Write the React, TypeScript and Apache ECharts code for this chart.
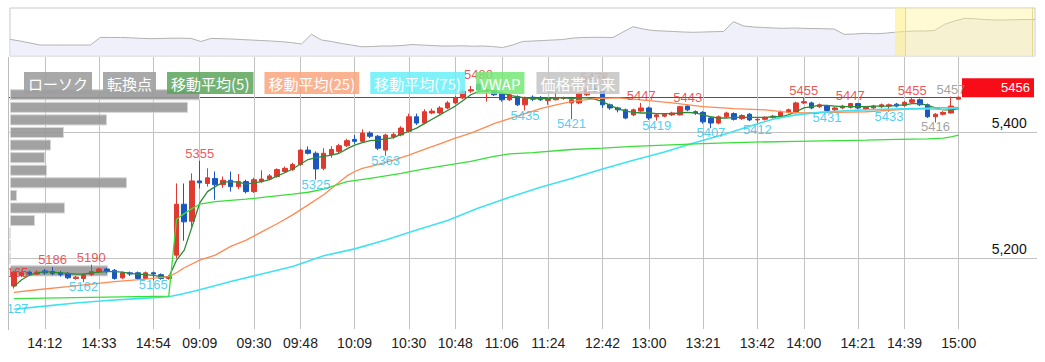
import React, { useEffect, useRef } from "react";
import * as echarts from "echarts";

// ---------- data ----------
const sessions = [
  { day: 0, start: "14:00", end: "15:00" },
  { day: 1, start: "09:00", end: "11:30" },
  { day: 1, start: "12:30", end: "15:00" },
];
const STEP_MIN = 3;
const prevDayTicks = ["14:12", "14:33", "14:54"];
const todayTicks = ["09:09", "09:30", "09:48", "10:09", "10:30", "10:48", "11:06", "11:24", "12:42", "13:00", "13:21", "13:42", "14:00", "14:21", "14:39", "15:00"];
const yTickValues = [5200, 5400];

// [open, close, low, high]
const candles = [
  [5156, 5178, 5152, 5180], [5173, 5177, 5170, 5180], [5178, 5175, 5172, 5180], [5175, 5178, 5173, 5181],
  [5180, 5177, 5174, 5183], [5179, 5176, 5173, 5186], [5177, 5174, 5171, 5180], [5176, 5169, 5167, 5178],
  [5168, 5170, 5166, 5172], [5168, 5174, 5162, 5176], [5174, 5179, 5172, 5190], [5179, 5183, 5177, 5185],
  [5183, 5180, 5176, 5185], [5181, 5168, 5166, 5183], [5169, 5177, 5167, 5179], [5177, 5175, 5172, 5179],
  [5177, 5168, 5166, 5179], [5168, 5177, 5167, 5179], [5177, 5175, 5165, 5179], [5174, 5168, 5166, 5176],
  [5168, 5171, 5166, 5173],
  [5205, 5286, 5200, 5319], [5286, 5258, 5228, 5319], [5259, 5323, 5250, 5335], [5323, 5320, 5311, 5355],
  [5319, 5328, 5314, 5343], [5327, 5317, 5293, 5338], [5317, 5324, 5312, 5330], [5324, 5314, 5306, 5338],
  [5314, 5322, 5310, 5334], [5322, 5306, 5303, 5325], [5306, 5325, 5304, 5328], [5322, 5326, 5320, 5340],
  [5326, 5331, 5324, 5334], [5330, 5341, 5328, 5343], [5338, 5343, 5336, 5346], [5341, 5349, 5339, 5352],
  [5349, 5372, 5347, 5374], [5372, 5367, 5365, 5378], [5367, 5342, 5325, 5370], [5343, 5367, 5340, 5375],
  [5365, 5373, 5360, 5378], [5370, 5379, 5366, 5382], [5379, 5387, 5377, 5390], [5389, 5386, 5382, 5396],
  [5386, 5399, 5384, 5405], [5399, 5394, 5391, 5402], [5394, 5375, 5372, 5396], [5372, 5396, 5363, 5398],
  [5393, 5397, 5390, 5400], [5396, 5407, 5394, 5410], [5402, 5425, 5400, 5430], [5425, 5415, 5412, 5430],
  [5415, 5433, 5413, 5437], [5431, 5434, 5429, 5438], [5431, 5439, 5429, 5442], [5439, 5447, 5437, 5450],
  [5447, 5455, 5445, 5458], [5455, 5465, 5453, 5468], [5466, 5468, 5463, 5474], [5476, 5468, 5466, 5480],
  [5466, 5468, 5449, 5470], [5467, 5460, 5458, 5469], [5462, 5452, 5449, 5464], [5452, 5460, 5450, 5462],
  [5457, 5444, 5442, 5459], [5444, 5455, 5435, 5457], [5456, 5453, 5450, 5459], [5455, 5452, 5450, 5458],
  [5451, 5454, 5444, 5456], [5452, 5455, 5451, 5466], [5454, 5455, 5452, 5457],
  [5447, 5452, 5421, 5454], [5447, 5462, 5445, 5464], [5460, 5468, 5458, 5470], [5470, 5466, 5464, 5476],
  [5466, 5444, 5439, 5468], [5444, 5439, 5436, 5446], [5439, 5436, 5432, 5441], [5436, 5423, 5421, 5438],
  [5428, 5436, 5426, 5438], [5434, 5439, 5432, 5447], [5439, 5423, 5420, 5441], [5425, 5428, 5419, 5430],
  [5426, 5429, 5424, 5431], [5428, 5431, 5426, 5433], [5428, 5441, 5427, 5442], [5442, 5436, 5434, 5443],
  [5433, 5431, 5428, 5435], [5432, 5417, 5414, 5434], [5423, 5415, 5407, 5425], [5415, 5425, 5413, 5427],
  [5425, 5431, 5423, 5433], [5430, 5421, 5419, 5432], [5422, 5427, 5420, 5429], [5429, 5420, 5418, 5431],
  [5420, 5421, 5412, 5423], [5421, 5424, 5419, 5426], [5424, 5426, 5422, 5428], [5426, 5433, 5424, 5435],
  [5432, 5436, 5430, 5438], [5432, 5447, 5430, 5449], [5447, 5449, 5445, 5455], [5447, 5439, 5437, 5449],
  [5441, 5444, 5439, 5446], [5442, 5435, 5431, 5444], [5436, 5439, 5434, 5441], [5439, 5442, 5437, 5444],
  [5440, 5446, 5438, 5447], [5446, 5439, 5437, 5447], [5437, 5440, 5435, 5442], [5439, 5442, 5437, 5444],
  [5441, 5444, 5439, 5446], [5442, 5444, 5433, 5446], [5445, 5442, 5440, 5447], [5443, 5448, 5441, 5450],
  [5448, 5452, 5446, 5455], [5452, 5444, 5442, 5454], [5444, 5425, 5423, 5446], [5425, 5429, 5416, 5431],
  [5429, 5432, 5427, 5434], [5431, 5442, 5430, 5457], [5453, 5456, 5453, 5457],
];

const ma5 = [
  5155, 5166, 5173, 5177, 5179, 5178, 5177, 5176, 5175, 5175, 5177, 5178, 5179, 5179, 5178, 5176, 5175, 5174, 5173, 5171, 5170,
  5197, 5213, 5250, 5288, 5306, 5314, 5321, 5322, 5321, 5318, 5320, 5322, 5325, 5331, 5336, 5342, 5350, 5357, 5360, 5362,
  5364, 5367, 5374, 5380, 5384, 5387, 5388, 5390, 5392, 5397, 5402, 5407, 5414, 5421, 5428, 5435, 5442, 5451, 5460, 5465,
  5467, 5466, 5463, 5459, 5457, 5455, 5454, 5454, 5454, 5455, 5455, 5454, 5455, 5455, 5453, 5449, 5443, 5438, 5434, 5432,
  5431, 5431, 5430, 5430, 5430, 5431, 5432, 5431, 5428, 5425, 5423, 5423, 5424, 5424, 5424, 5424, 5424, 5425, 5425, 5428,
  5433, 5439, 5441, 5443, 5443, 5442, 5441, 5441, 5441, 5441, 5442, 5442, 5442, 5443, 5444, 5446, 5446, 5443, 5439, 5436,
  5436, 5438,
];
const ma25 = [
  [0, 5146], [3, 5150], [7, 5155], [10, 5159], [13, 5163], [17, 5167], [20, 5171], [21, 5177], [22, 5185], [24, 5197],
  [26, 5205], [28, 5219], [30, 5229], [32, 5242], [34, 5255], [36, 5269], [38, 5285], [40, 5301], [42, 5321], [43, 5331],
  [44, 5338], [45, 5343], [47, 5349], [49, 5356], [51, 5364], [53, 5373], [55, 5382], [57, 5391], [59, 5399], [61, 5409],
  [62, 5414], [64, 5422], [66, 5430], [68, 5438], [70, 5444], [72, 5449], [75, 5454], [78, 5455], [81, 5452], [85, 5447],
  [89, 5441], [93, 5438], [97, 5436], [100, 5432], [102, 5431], [106, 5432], [110, 5433], [114, 5436], [118, 5439], [122, 5440],
];
const ma75 = [
  [0, 5119], [4, 5124], [8, 5129], [12, 5133], [16, 5136], [20, 5139], [22, 5144], [24, 5150], [28, 5163], [32, 5175],
  [36, 5187], [40, 5204], [44, 5215], [48, 5229], [52, 5245], [56, 5260], [60, 5280], [64, 5297], [68, 5313], [72, 5327],
  [76, 5342], [80, 5356], [84, 5369], [88, 5384], [92, 5398], [95, 5410], [98, 5421], [101, 5428], [104, 5432], [108, 5435],
  [112, 5437], [116, 5438], [120, 5437], [122, 5439],
];
const vwap = [
  [0, 5136], [10, 5138], [20, 5140],
  [21, 5262], [22, 5271], [23, 5279], [24, 5286], [26, 5290], [30, 5294], [33, 5298], [36, 5302], [38, 5305], [40, 5310],
  [43, 5322], [46, 5327], [50, 5335], [53, 5342], [56, 5348], [59, 5354], [62, 5362], [64, 5366], [67, 5368], [72, 5373],
  [76, 5375], [80, 5378], [84, 5380], [88, 5382], [93, 5384], [101, 5386], [110, 5388], [114, 5389], [118, 5390],
  [120, 5391], [121, 5393], [122, 5396],
];

const pivotHighs = [[0, 5165], [5, 5186], [10, 5190], [24, 5355], [60, 5480], [75, 5476], [81, 5447], [87, 5443], [102, 5455], [108, 5447], [116, 5455]];
const pivotLows = [[0, 5127], [9, 5162], [18, 5165], [39, 5325], [48, 5363], [66, 5435], [72, 5421], [83, 5419], [90, 5407], [96, 5412], [105, 5431], [113, 5433]];
const pendingHighs = [[121, 5457]];
const pendingLows = [[119, 5416]];

const profileBins = [5180, 5200, 5220, 5240, 5260, 5280, 5300, 5320, 5340, 5360, 5380, 5400, 5420, 5440, 5460];
const profileVolume = [98, 0, 0, 0, 25, 55, 7, 117, 37, 35, 41, 54, 97, 178, 190];

const overviewValues = [
  4963, 4921, 4871, 4821, 4821, 4821, 4821, 4821, 4821, 5013, 5008, 5010, 5000, 4988, 4980, 4983, 4991, 4993, 4986, 4909,
  4986, 4980, 4971, 4958, 4946, 4933, 4921, 4904, 4884, 4846, 5088, 4946, 4909, 4859, 4821, 4779, 4784, 4797, 4797, 4809,
  4834, 4821, 4809, 4797, 4797, 4802, 4792, 4797, 4784, 4759, 4821, 4909, 4921, 4933, 4946, 4958, 4996, 5008, 5013, 5013,
  5008, 5145, 5277, 5220, 5182, 5170, 5158, 5145, 5138, 5145, 5153, 5158, 5402, 5295, 5270, 5257, 5245, 5237, 5245, 5237,
  5232, 5227, 5220, 5088, 5095, 5113, 5103, 5113, 5138, 5158, 5170, 5170, 5182, 5337, 5419, 5486, 5476, 5456, 5444, 5444,
  5451, 5456, 5456,
];

const legendItems = [
  { name: "ローソク", bg: "rgba(158,158,158,0.9)" },
  { name: "転換点", bg: "rgba(160,160,160,0.9)" },
  { name: "移動平均(5)", bg: "rgba(92,164,92,0.85)" },
  { name: "移動平均(25)", bg: "rgba(250,165,125,0.85)" },
  { name: "移動平均(75)", bg: "rgba(105,238,248,0.85)" },
  { name: "VWAP", bg: "rgba(118,232,118,0.85)" },
  { name: "価格帯出来", bg: "rgba(196,196,196,0.85)" },
];

// ---------- layout constants ----------
const OX = 8;
const px = (pageX: number) => pageX - OX;
const Y_MIN = 5094;
const Y_MAX = 5520;
const MAIN_TOP = 57;
const MAIN_H = 268;
const yPix = (p: number) => MAIN_TOP + ((Y_MAX - p) / (Y_MAX - Y_MIN)) * MAIN_H;

const FONT = "'Liberation Sans', Arial, Helvetica, sans-serif";
const JP = "'Noto Sans CJK JP', 'Liberation Sans', sans-serif";
const GRID_C = "#c2c2c2";
const UP = "#e0392f";
const DOWN = "#1a58c0";
const RED_T = "#ec2a2a";
const CYAN_T = "#22c4ef";
const GRAY_T = "#8a8a8a";

function buildCategories() {
  const cats: { day: number; time: string }[] = [];
  const toMin = (s: string) => {
    const [h, m] = s.split(":").map(Number);
    return h * 60 + m;
  };
  for (const s of sessions) {
    for (let t = toMin(s.start); t <= toMin(s.end); t += STEP_MIN) {
      const hh = String(Math.floor(t / 60)).padStart(2, "0");
      const mm = String(t % 60).padStart(2, "0");
      cats.push({ day: s.day, time: `${hh}:${mm}` });
    }
  }
  return cats;
}

export default function App() {
  const ref = useRef<HTMLDivElement>(null);

  useEffect(() => {
    const el = ref.current;
    if (!el) return;
    const chart = echarts.init(el, null, { renderer: "svg" });

    const cats = buildCategories();
    const catKeys = cats.map((c) => `d${c.day} ${c.time}`);
    const tickSet = new Set<number>();
    cats.forEach((c, i) => {
      if ((c.day === 0 && prevDayTicks.includes(c.time)) || (c.day === 1 && todayTicks.includes(c.time))) tickSet.add(i);
    });
    const tickFn = (index: number) => tickSet.has(index);
    const lastClose = candles[candles.length - 1][1];

    const pivotData = [
      ...pivotHighs.map(([i, v]) => ({ value: [i, v], label: { position: "top", distance: 1, color: RED_T } })),
      ...pivotLows.map(([i, v]) => ({ value: [i, v], label: { position: "bottom", distance: 0, offset: [0, -2], color: CYAN_T } })),
      ...pendingHighs.map(([i, v]) => ({ value: [i, v], label: { position: "top", distance: 1, color: GRAY_T } })),
      ...pendingLows.map(([i, v]) => ({ value: [i, v], label: { position: "bottom", distance: 0, offset: [0, -2], color: GRAY_T } })),
    ];

    const option: any = {
      animation: false,
      textStyle: { fontFamily: FONT },
      legend: {
        left: px(13),
        top: 67,
        itemWidth: 0,
        itemHeight: 0,
        itemGap: 6,
        icon: "rect",
        selectedMode: false,
        z: 20,
        data: legendItems.map((it) => ({
          name: it.name,
          textStyle: {
            color: "#fff",
            backgroundColor: it.bg,
            padding: [3, 4, 2, 4],
            fontSize: 15,
            lineHeight: 17,
            fontFamily: JP,
          },
        })),
      },
      grid: [
        { left: px(10), right: 1045 - 1035, top: 8, height: 48, show: true, borderColor: "#c9c9c9", borderWidth: 1, backgroundColor: "#fff" },
        { left: px(13.87), right: 1045 - 958.7, top: MAIN_TOP, height: MAIN_H },
        { left: px(10), width: 300, top: yPix(5470), height: yPix(5170) - yPix(5470) },
        { left: 0, right: 1045 - 1037, top: MAIN_TOP, height: MAIN_H },
        { left: 0, right: 1045 - 960, top: MAIN_TOP, height: MAIN_H },
      ],
      xAxis: [
        { gridIndex: 0, type: "category", data: overviewValues.map((_, i) => String(i)), boundaryGap: false, show: false },
        {
          gridIndex: 1,
          type: "category",
          data: catKeys,
          boundaryGap: false,
          axisLine: { show: false },
          axisTick: { show: true, interval: tickFn, length: 4, lineStyle: { color: GRID_C } },
          axisLabel: {
            interval: tickFn,
            formatter: (k: string) => k.split(" ")[1],
            margin: 11,
            fontSize: 14,
            color: "#222",
            fontFamily: FONT,
          },
          splitLine: { show: true, interval: tickFn, lineStyle: { color: GRID_C, width: 1 } },
        },
        { gridIndex: 2, type: "value", min: 0, max: 300, show: false },
        { gridIndex: 3, type: "value", min: 0, max: 1, show: false },
        { gridIndex: 4, type: "value", min: 0, max: 1, show: false },
      ],
      yAxis: [
        { gridIndex: 0, type: "value", min: 4548, max: 5743, show: false },
        {
          gridIndex: 1,
          type: "value",
          min: Y_MIN,
          max: Y_MAX,
          position: "right",
          axisLine: { show: false },
          axisTick: { show: false, customValues: yTickValues },
          splitLine: { show: false },
          axisLabel: {
            customValues: yTickValues,
            formatter: (v: number) => v.toLocaleString("en-US"),
            margin: 68,
            align: "right",
            verticalAlign: "bottom",
            lineHeight: 18,
            fontSize: 14,
            color: "#111",
            fontFamily: FONT,
          },
        },
        { gridIndex: 2, type: "category", data: profileBins.map(String), show: false },
        {
          gridIndex: 3,
          type: "value",
          min: Y_MIN,
          max: Y_MAX,
          axisLine: { show: false },
          axisTick: { show: false, customValues: yTickValues },
          axisLabel: { show: false },
          splitLine: { show: true, lineStyle: { color: GRID_C, width: 1 } },
        },
        {
          gridIndex: 4,
          type: "value",
          min: Y_MIN,
          max: Y_MAX,
          position: "right",
          axisLine: { show: false },
          axisTick: { show: false, customValues: [lastClose] },
          splitLine: { show: true, lineStyle: { color: "#ee1111", width: 1 } },
          axisLabel: {
            customValues: [lastClose],
            margin: 2,
            align: "left",
            verticalAlign: "bottom",
            formatter: (v: number) => `{v|${v}}`,
            backgroundColor: "#f80c18",
            padding: [3, 4, 3, 4],
            rich: { v: { width: 64, align: "right", color: "#fff", fontSize: 13, lineHeight: 13, fontFamily: FONT } },
          },
        },
      ],
      series: [
        {
          name: "価格帯出来",
          type: "bar",
          xAxisIndex: 2,
          yAxisIndex: 2,
          data: profileVolume,
          barCategoryGap: "12%",
          itemStyle: { color: "rgba(152,152,152,0.9)", borderColor: "#d6d6d6", borderWidth: 1 },
          z: 1,
        },
        {
          name: "ローソク",
          type: "candlestick",
          xAxisIndex: 1,
          yAxisIndex: 1,
          data: candles,
          barWidth: 5,
          clip: false,
          itemStyle: { color: UP, color0: DOWN, borderColor: UP, borderColor0: DOWN, borderWidth: 1 },
        },
        {
          name: "移動平均(5)",
          type: "line",
          xAxisIndex: 1,
          yAxisIndex: 1,
          data: ma5,
          symbol: "none",
          lineStyle: { color: "#2d8a35", width: 1.3 },
          itemStyle: { color: "#2d8a35" },
        },
        {
          name: "移動平均(25)",
          type: "line",
          xAxisIndex: 1,
          yAxisIndex: 1,
          data: ma25,
          symbol: "none",
          lineStyle: { color: "#ff8a52", width: 1.3 },
          itemStyle: { color: "#ff8a52" },
        },
        {
          name: "移動平均(75)",
          type: "line",
          xAxisIndex: 1,
          yAxisIndex: 1,
          data: ma75,
          symbol: "none",
          lineStyle: { color: "#40e2f2", width: 1.6 },
          itemStyle: { color: "#40e2f2" },
        },
        {
          name: "VWAP",
          type: "line",
          xAxisIndex: 1,
          yAxisIndex: 1,
          data: vwap,
          symbol: "none",
          lineStyle: { color: "#3ade3a", width: 1.3 },
          itemStyle: { color: "#3ade3a" },
        },
        {
          name: "転換点",
          type: "scatter",
          xAxisIndex: 1,
          yAxisIndex: 1,
          data: pivotData,
          symbolSize: 0.1,
          clip: false,
          itemStyle: { color: "rgba(0,0,0,0)" },
          label: {
            show: true,
            formatter: (p: any) => String(p.value[1]),
            fontSize: 13,
            fontFamily: FONT,
          },
          z: 3,
        },
        {
          type: "line",
          xAxisIndex: 0,
          yAxisIndex: 0,
          data: overviewValues,
          symbol: "none",
          lineStyle: { color: "#b2b2b2", width: 1 },
          areaStyle: { color: "#e8eaf8" },
        },
      ],
      graphic: [
        { type: "rect", shape: { x: px(895), y: 8, width: 1032 - 895, height: 48 }, style: { fill: "rgba(255,242,150,0.42)" }, z: 10 },
        { type: "rect", shape: { x: px(895), y: 8, width: 10, height: 48 }, style: { fill: "rgba(255,236,120,0.3)" }, z: 10 },
        { type: "line", shape: { x1: px(905) + 0.5, y1: 8, x2: px(905) + 0.5, y2: 56 }, style: { stroke: "#e6da88", lineWidth: 1 }, z: 11 },
        { type: "line", shape: { x1: px(1032) + 0.5, y1: 8, x2: px(1032) + 0.5, y2: 56 }, style: { stroke: "#e6da88", lineWidth: 1 }, z: 11 },
        { type: "line", shape: { x1: 0.5, y1: 57, x2: 0.5, y2: 330 }, style: { stroke: "#bdbdbd", lineWidth: 1 }, z: 11 },
      ],
    };

    chart.setOption(option);
    return () => chart.dispose();
  }, []);

  return <div ref={ref} style={{ position: "absolute", left: 8, top: 0, width: 1037, height: 362 }} />;
}
